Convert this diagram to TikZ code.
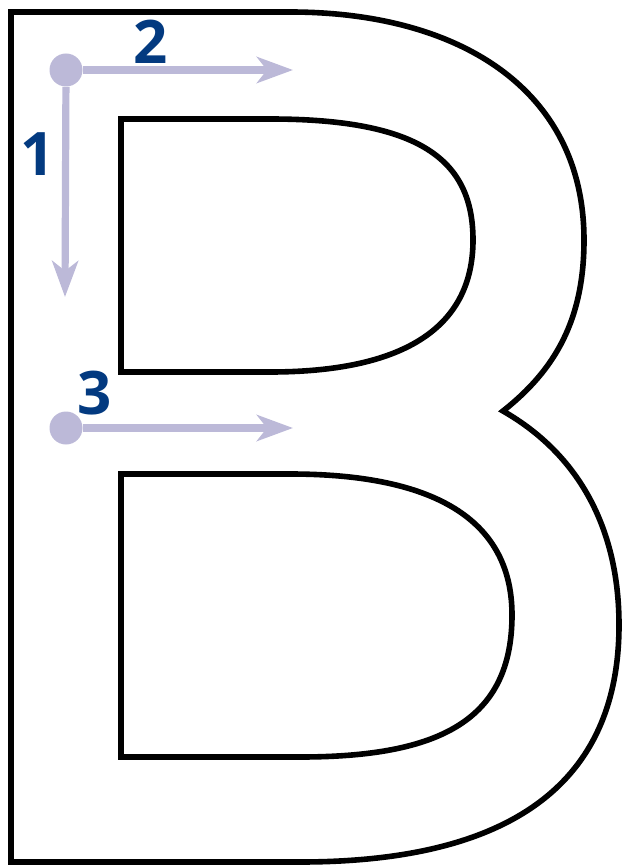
\documentclass[tikz,border=0pt]{standalone}
\usepackage{fontspec}
\usepackage{tikz}
\usetikzlibrary{arrows.meta}
\newfontfamily\stepfont{Open Sans}
\definecolor{Guide}{HTML}{BCB9D8}
\definecolor{StepText}{HTML}{033A80}
\begin{document}
\begin{tikzpicture}[x=0.5pt,y=-0.5pt,outline/.style={line width=2.8pt, line join=miter},dot/.style={circle, fill=Guide, minimum size=16.5pt, inner sep=0pt},guide/.style={draw=Guide, line width=3.6pt, -{Stealth[length=18pt, width=13pt, inset=5pt]}},num/.style={font=\stepfont\bfseries\fontsize{30}{30}\selectfont, text=StepText, inner sep=0pt}]
\useasboundingbox (0,0) rectangle (622,866);
\draw[outline] (11,12) -- (290,12) .. controls (460,12) and (584,90) .. (584,240) .. controls (584,320) and (555,370) .. (503,411) .. controls (580,455) and (619,530) .. (619,625) .. controls (619,760) and (540,862) .. (300,862) -- (11,862) -- cycle;
\draw[outline] (121,119) -- (270,119) .. controls (420,119) and (473,160) .. (473,240) .. controls (473,330) and (400,372) .. (270,372) -- (121,372) -- cycle;
\draw[outline] (121,474) -- (290,474) .. controls (450,474) and (512,530) .. (512,615) .. controls (512,720) and (440,757) .. (300,757) -- (121,757) -- cycle;
\node[dot] (dotA) at (66,70) {};
\node[dot] (dotB) at (66,428) {};
\coordinate (endDown) at (65,297);
\coordinate (endRight) at (293,70);
\coordinate (endLow) at (293,428);
\draw[guide] (dotA) -- (endDown);
\draw[guide] (dotA) -- (endRight);
\draw[guide] (dotB) -- (endLow);
\node[num] (numA) at (38,154) {1};
\node[num] (numB) at (151,42) {2};
\node[num] (numC) at (95,393) {3};
\end{tikzpicture}
\end{document}
